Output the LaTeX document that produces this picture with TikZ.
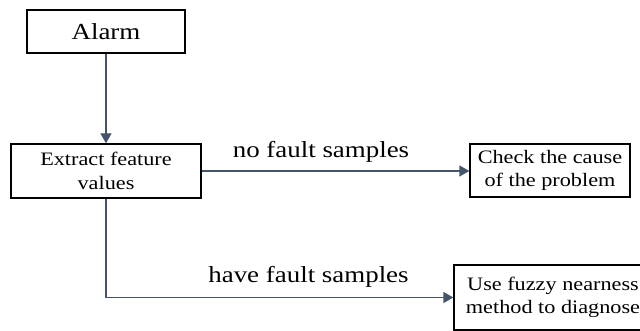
\documentclass[tikz,border=0pt]{standalone}
\usepackage{fontspec}
\setmainfont[FakeStretch=1.17]{Liberation Serif}
\usetikzlibrary{arrows.meta}
\definecolor{conn}{HTML}{44546A}
\tikzset{
  box/.style={draw=black, line width=1.3pt, rectangle, align=center, inner sep=0pt},
  boxtext/.style={font=\fontsize{19}{23.5}\selectfont},
  bigtext/.style={font=\fontsize{23}{27}\selectfont},
  conline/.style={draw=conn, line width=1.3pt, -{Triangle[length=10pt,width=11pt]}},
}
\begin{document}
\begin{tikzpicture}[x=1pt,y=-1pt]
\useasboundingbox (0,0) rectangle (640,331);
\node[box, bigtext, minimum width=158pt, minimum height=43pt] (alarm) at (106,31.5) {Alarm};
\node[box, boxtext, minimum width=190pt, minimum height=54pt] (extract) at (106,171) {Extract feature\\values};
\node[box, boxtext, minimum width=160pt, minimum height=53pt] (check) at (550,170.5) {Check the cause\\of the problem};
\node[box, boxtext, minimum width=198pt, minimum height=65pt] (use) at (553,297.5) {Use fuzzy nearness\\method to diagnose};
\node[bigtext, anchor=base] (nofault) at (321,158) {no fault samples};
\node[bigtext, anchor=base] (havefault) at (308.5,282) {have fault samples};
\draw[conline] (alarm.south) -- (extract.north);
\draw[conline] (extract.east) -- (extract.east -| check.west);
\draw[conline] (extract.south) |- (use.west);
\end{tikzpicture}
\end{document}
